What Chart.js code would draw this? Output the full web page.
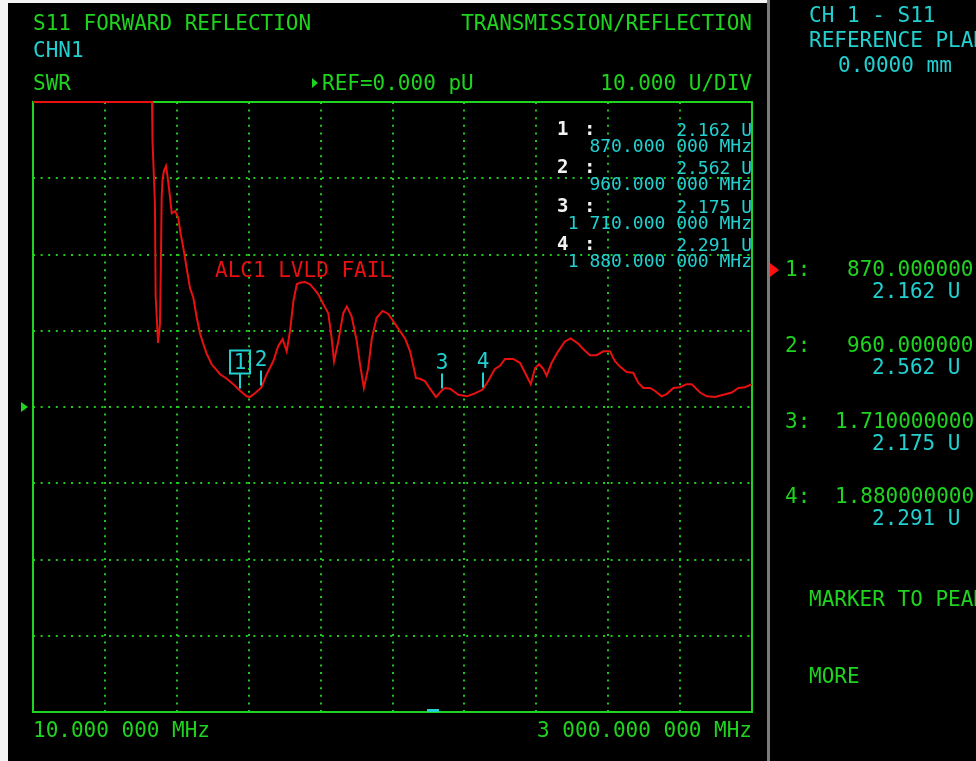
<!DOCTYPE html>
<html><head><meta charset="utf-8">
<script src="https://cdn.jsdelivr.net/npm/chart.js@4.4.1/dist/chart.umd.min.js"></script>
<style>html,body{margin:0;padding:0;background:#000;overflow:hidden}#wrap{position:relative;width:976px;height:761px}</style>
</head><body><div id="wrap"><canvas id="c"></canvas></div>
<script>
const freqMHz = [10, 505, 507, 517, 520, 530, 538, 542, 545, 549, 555, 563, 568, 577, 587, 601, 614, 624, 635, 649, 663, 677, 691, 704, 718, 732, 753, 788, 816, 843, 870, 899, 912, 933, 960, 982, 1009, 1030, 1048, 1065, 1079, 1093, 1107, 1120, 1141, 1162, 1176, 1196, 1217, 1238, 1252, 1262, 1280, 1300, 1315, 1335, 1356, 1370, 1386, 1404, 1419, 1439, 1464, 1488, 1522, 1557, 1578, 1603, 1619, 1640, 1661, 1686, 1710, 1723, 1744, 1779, 1814, 1841, 1880, 1903, 1931, 1952, 1973, 2007, 2035, 2056, 2080, 2098, 2115, 2132, 2146, 2167, 2194, 2222, 2246, 2278, 2298, 2326, 2354, 2382, 2409, 2430, 2451, 2479, 2506, 2527, 2548, 2576, 2597, 2624, 2645, 2673, 2701, 2728, 2749, 2784, 2812, 2846, 2881, 2916, 2943, 2971, 3000];
const swrU = [40, 40, 34.9, 26.8, 14.6, 8.4, 10.9, 19.1, 27.4, 30.0, 31.0, 31.6, 30.6, 28.3, 25.4, 25.7, 24.8, 22.7, 20.9, 18.2, 15.6, 14.3, 11.7, 9.7, 8.3, 7.0, 5.6, 4.3, 3.7, 3.0, 2.16, 1.4, 1.3, 1.8, 2.56, 4.3, 6.0, 8.0, 8.9, 7.3, 10.0, 13.9, 16.1, 16.3, 16.4, 16.1, 15.6, 14.8, 13.5, 12.3, 9.0, 6.0, 8.7, 12.3, 13.2, 11.9, 8.7, 5.6, 2.5, 5.1, 9.0, 11.7, 12.6, 12.2, 10.6, 9.0, 7.3, 3.8, 3.7, 3.4, 2.4, 1.3, 2.18, 2.5, 2.4, 1.6, 1.4, 1.7, 2.29, 3.4, 5.0, 5.4, 6.3, 6.3, 5.8, 4.5, 3.0, 5.1, 5.6, 5.0, 4.1, 5.8, 7.3, 8.6, 9.0, 8.3, 7.6, 6.8, 6.8, 7.3, 7.3, 6.0, 5.3, 4.6, 4.5, 3.2, 2.5, 2.5, 2.1, 1.4, 1.7, 2.5, 2.6, 3.0, 3.0, 1.9, 1.4, 1.3, 1.6, 1.9, 2.5, 2.6, 3.0];
const freqGridTicks = [10, 309, 608, 907, 1206, 1505, 1804, 2103, 2402, 2701, 3000];
const swrGridTicks = [-40, -30, -20, -10, 0, 10, 20, 30, 40];
const refValue = 0;
const markerIds = [1, 2, 3, 4];
const markerFreqMHz = [870, 960, 1710, 1880];
const markerSwrU = [2.162, 2.562, 2.175, 2.291];
const startLabel = '10.000 000 MHz';
const stopLabel = '3 000.000 000 MHz';

const GREEN = '#1fd41f', CYAN = '#22d0d0', RED = '#e81010', WHITE = '#f2f2f2';
const BIG = '21px "DejaVu Sans Mono"', SMALL = '18px "DejaVu Sans Mono"';

function fmtReadout(f) {
  const whole = Math.floor(f);
  const s = whole >= 1000 ? Math.floor(whole / 1000) + ' ' + String(whole % 1000).padStart(3, '0') : String(whole);
  return s + '.000 000 MHz';
}
function fmtPanel(f) { return f >= 1000 ? (f / 1000).toFixed(9) : f.toFixed(6); }

function txt(ctx, s, x, y, color, align, font) {
  ctx.font = font || BIG; ctx.fillStyle = color; ctx.textAlign = align || 'left'; ctx.textBaseline = 'alphabetic';
  ctx.fillText(s, x, y);
}
function tri(ctx, pts, color) {
  ctx.fillStyle = color; ctx.beginPath(); ctx.moveTo(pts[0], pts[1]); ctx.lineTo(pts[2], pts[3]); ctx.lineTo(pts[4], pts[5]); ctx.closePath(); ctx.fill();
}

const screenPlugin = {
  id: 'screen',
  beforeDraw(chart) {
    const ctx = chart.ctx;
    ctx.save();
    ctx.fillStyle = '#000'; ctx.fillRect(0, 0, chart.width, chart.height);
    ctx.fillStyle = '#f4f4f4'; ctx.fillRect(0, 0, 8, chart.height); ctx.fillRect(0, 0, 767, 3);
    ctx.fillStyle = '#7a7a7a'; ctx.fillRect(767, 0, 3, chart.height);
    ctx.restore();
  },
  beforeDatasetsDraw(chart) {
    const ctx = chart.ctx, a = chart.chartArea, ys = chart.scales.y;
    ctx.save();
    ctx.strokeStyle = GREEN; ctx.lineWidth = 2;
    ctx.strokeRect(a.left, a.top, a.right - a.left, a.bottom - a.top);
    const ry = ys.getPixelForValue(refValue);
    tri(ctx, [21, ry - 5, 21, ry + 5, 28, ry], GREEN);
    ctx.fillStyle = CYAN; ctx.fillRect(427, a.bottom - 3, 12, 3);
    ctx.restore();
  },
  afterDatasetsDraw(chart) {
    const ctx = chart.ctx, xs = chart.scales.x, ys = chart.scales.y;
    ctx.save();
    // header
    txt(ctx, 'S11 FORWARD REFLECTION', 33, 30, GREEN);
    txt(ctx, 'TRANSMISSION/REFLECTION', 752, 30, GREEN, 'right');
    txt(ctx, 'CHN1', 33, 57, CYAN);
    txt(ctx, 'SWR', 33, 90, GREEN);
    tri(ctx, [312, 78, 312, 88, 318, 83], GREEN);
    txt(ctx, 'REF=0.000 pU', 322, 90, GREEN);
    txt(ctx, '10.000 U/DIV', 752, 90, GREEN, 'right');
    txt(ctx, 'ALC1 LVLD FAIL', 215, 277, RED);
    txt(ctx, startLabel, 33, 737, GREEN);
    txt(ctx, stopLabel, 752, 737, GREEN, 'right');
    // marker readout inside the graticule
    const rowY = [135, 173, 212, 250];
    markerIds.forEach((id, i) => {
      const by = rowY[i];
      txt(ctx, String(id), 557, by, WHITE, 'left', 'bold 19px "DejaVu Sans Mono"');
      txt(ctx, ':', 584, by, WHITE, 'left', 'bold 19px "DejaVu Sans Mono"');
      txt(ctx, markerSwrU[i].toFixed(3) + ' U', 752, by + 1, CYAN, 'right', SMALL);
      txt(ctx, fmtReadout(markerFreqMHz[i]), 752, by + 17, CYAN, 'right', SMALL);
    });
    // markers on trace
    ctx.strokeStyle = CYAN; ctx.lineWidth = 2;
    markerIds.forEach((id, i) => {
      const px = Math.round(xs.getPixelForValue(markerFreqMHz[i]));
      const py = ys.getPixelForValue(markerSwrU[i]);
      ctx.beginPath(); ctx.moveTo(px, py - 2); ctx.lineTo(px, py - 17); ctx.stroke();
      if (i === 0) { ctx.strokeRect(px - 10, py - 40, 20, 23); }
      txt(ctx, String(id), px, py - 21.5, CYAN, 'center');
    });
    // right panel
    txt(ctx, 'CH 1 - S11', 809, 22, CYAN);
    txt(ctx, 'REFERENCE PLANE', 809, 47, CYAN);
    txt(ctx, '0.0000 mm', 838, 72, CYAN);
    tri(ctx, [770, 263, 770, 277, 779, 270], '#ff1010');
    const panelY = [276, 352, 428, 503];
    markerIds.forEach((id, i) => {
      const by = panelY[i];
      txt(ctx, id + ':', 785, by, GREEN);
      const fs = fmtPanel(markerFreqMHz[i]);
      txt(ctx, fs, markerFreqMHz[i] >= 1000 ? 835 : 847, by, GREEN);
      txt(ctx, markerSwrU[i].toFixed(3) + ' U', 872, by + 22, CYAN);
    });
    txt(ctx, 'MARKER TO PEAK', 809, 606, GREEN);
    txt(ctx, 'MORE', 809, 683, GREEN);
    ctx.restore();
  }
};

const gridCommon = { color: '#1ec81e', lineWidth: 2, drawTicks: false };
new Chart(document.getElementById('c'), {
  type: 'line',
  data: { datasets: [{
    data: freqMHz.map((f, i) => ({ x: f, y: swrU[i] })),
    borderColor: RED, borderWidth: 2, pointRadius: 0, tension: 0, fill: false,
    clip: { left: 2, top: 3, right: 2, bottom: 2 }
  }] },
  options: {
    responsive: true, maintainAspectRatio: false, animation: false, devicePixelRatio: 1,
    layout: { padding: { left: 33, top: 102, right: 224, bottom: 49 } },
    plugins: { legend: { display: false }, tooltip: { enabled: false } },
    scales: {
      x: { type: 'linear', min: 10, max: 3000,
        afterBuildTicks: s => { s.ticks = freqGridTicks.map(v => ({ value: v })); },
        ticks: { display: false }, grid: gridCommon,
        border: { display: false, dash: [2, 5.6] } },
      y: { type: 'linear', min: -40, max: 40,
        afterBuildTicks: s => { s.ticks = swrGridTicks.map(v => ({ value: v })); },
        ticks: { display: false }, grid: gridCommon,
        border: { display: false, dash: [2, 5.6] } }
    }
  },
  plugins: [screenPlugin]
});
</script></body></html>
